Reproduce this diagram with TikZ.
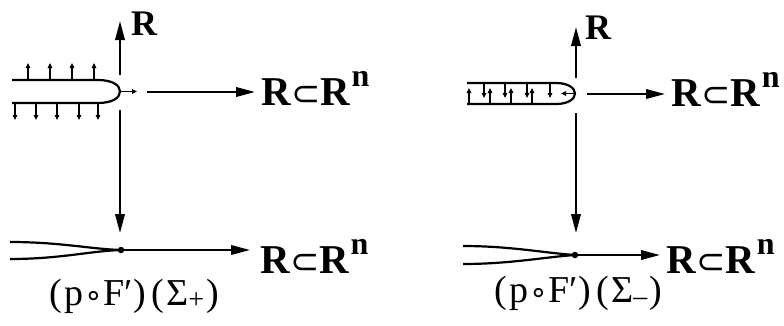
\documentclass[tikz,border=0pt]{standalone}
\usepackage{fontspec}
\setmainfont{Liberation Serif}
\newfontfamily\mysymfont{DejaVu Sans}
\usetikzlibrary{arrows.meta}
\newcommand\RinRn{\fontsize{41}{41}\selectfont\bfseries R\kern0.5pt{\mysymfont\mdseries\fontsize{35}{35}\selectfont ⊂}\kern0pt R\kern1.5pt\raisebox{19pt}{\fontsize{32}{32}\selectfont n}}
\newcommand\labtext[1]{\fontsize{38}{38}\selectfont (\kern3pt p\kern0.5pt{\mysymfont\fontsize{30}{30}\selectfont ∘}\kern0.5pt F′\kern1pt)\kern5pt(\kern2pt Σ\raisebox{-3pt}{\fontsize{28}{28}\selectfont #1}\kern2pt)}
\begin{document}
\begin{tikzpicture}[x=1pt,y=-1pt,
  shapeline/.style={line width=2.2pt},
  bigarr/.style={line width=2pt,-{Triangle[length=19pt,width=9.5pt]}},
  smallarr/.style={line width=1.4pt,-{Triangle[length=5pt,width=4.5pt]}},
  txt/.style={inner sep=0pt,anchor=base west},
  rlab/.style={inner sep=0pt,anchor=base west,font=\fontsize{36}{36}\selectfont\bfseries},
  lab/.style={inner sep=0pt,anchor=center},
  dotstyle/.style={circle,fill,inner sep=0pt,minimum size=6.5pt}]
\useasboundingbox (0,0) rectangle (784,325);

% ---------------- left diagram ----------------
\coordinate (Ltip) at (120,91.5);
\draw[shapeline] (12,80) -- (98,80) .. controls (112,80) and (120,85) .. (Ltip)
  .. controls (120,98) and (112,103) .. (98,103) -- (12,103);
\foreach \x in {28,50,72,94} \draw[smallarr] (\x,80) -- (\x,63);
\foreach \x in {15,36,57,79,98} \draw[smallarr] (\x,103) -- (\x,120);
\coordinate (Lsmall) at (137,91.5);
\draw[smallarr] (Ltip) -- (Lsmall);

\coordinate (LupS) at (120,75);
\coordinate (LupE) at (120,21);
\draw[bigarr] (LupS) -- (LupE);
\node[rlab] (LR) at (131,35) {R};

\node[txt] (LT) at (261,105) {\RinRn};
\coordinate (LhS) at (147,92);
\coordinate (LhE) at (255,92);
\draw[bigarr] (LhS) -- (LhE);

\node[dotstyle] (Ldot) at (121,250) {};
\coordinate (LdS) at (120,110);
\coordinate (LdE) at (120,233);
\draw[bigarr] (LdS) -- (LdE);
\draw[shapeline] (10,242) .. controls (60,242) and (90,249) .. (Ldot.center);
\draw[shapeline] (10,259) .. controls (60,259) and (90,251) .. (Ldot.center);
\node[txt] (LB) at (260,273) {\RinRn};
\coordinate (LbE) at (250,250);
\draw[bigarr] (Ldot) -- (LbE);
\node[lab] (Llab) at (134,296) {\labtext{+}};

% ---------------- right diagram ----------------
\coordinate (Rtip) at (575,93.5);
\draw[shapeline] (467,83) -- (556,83) .. controls (568,83) and (575,88) .. (Rtip)
  .. controls (575,99) and (568,104) .. (556,104) -- (467,104);
\foreach \x in {469,490,511,532} \draw[smallarr] (\x,104) -- (\x,88);
\foreach \x in {484,505,527,550} \draw[smallarr] (\x,83) -- (\x,98);
\coordinate (Rsmall) at (561,93.5);
\draw[smallarr] (Rtip) -- (Rsmall);

\coordinate (RupS) at (576,78);
\coordinate (RupE) at (576,27);
\draw[bigarr] (RupS) -- (RupE);
\node[rlab] (RR) at (585,39) {R};

\node[txt] (RT) at (671,106) {\RinRn};
\coordinate (RhS) at (587,94);
\coordinate (RhE) at (665,94);
\draw[bigarr] (RhS) -- (RhE);

\node[dotstyle] (Rdot) at (575,255) {};
\coordinate (RdS) at (576,113);
\coordinate (RdE) at (576,233);
\draw[bigarr] (RdS) -- (RdE);
\draw[shapeline] (463,246) .. controls (510,246) and (545,253) .. (Rdot.center);
\draw[shapeline] (463,264) .. controls (510,264) and (545,257) .. (Rdot.center);
\node[txt] (RB) at (666,273) {\RinRn};
\coordinate (RbE) at (660,255);
\draw[bigarr] (Rdot) -- (RbE);
\node[lab] (Rlab) at (578,293) {\labtext{–}};
\end{tikzpicture}
\end{document}
